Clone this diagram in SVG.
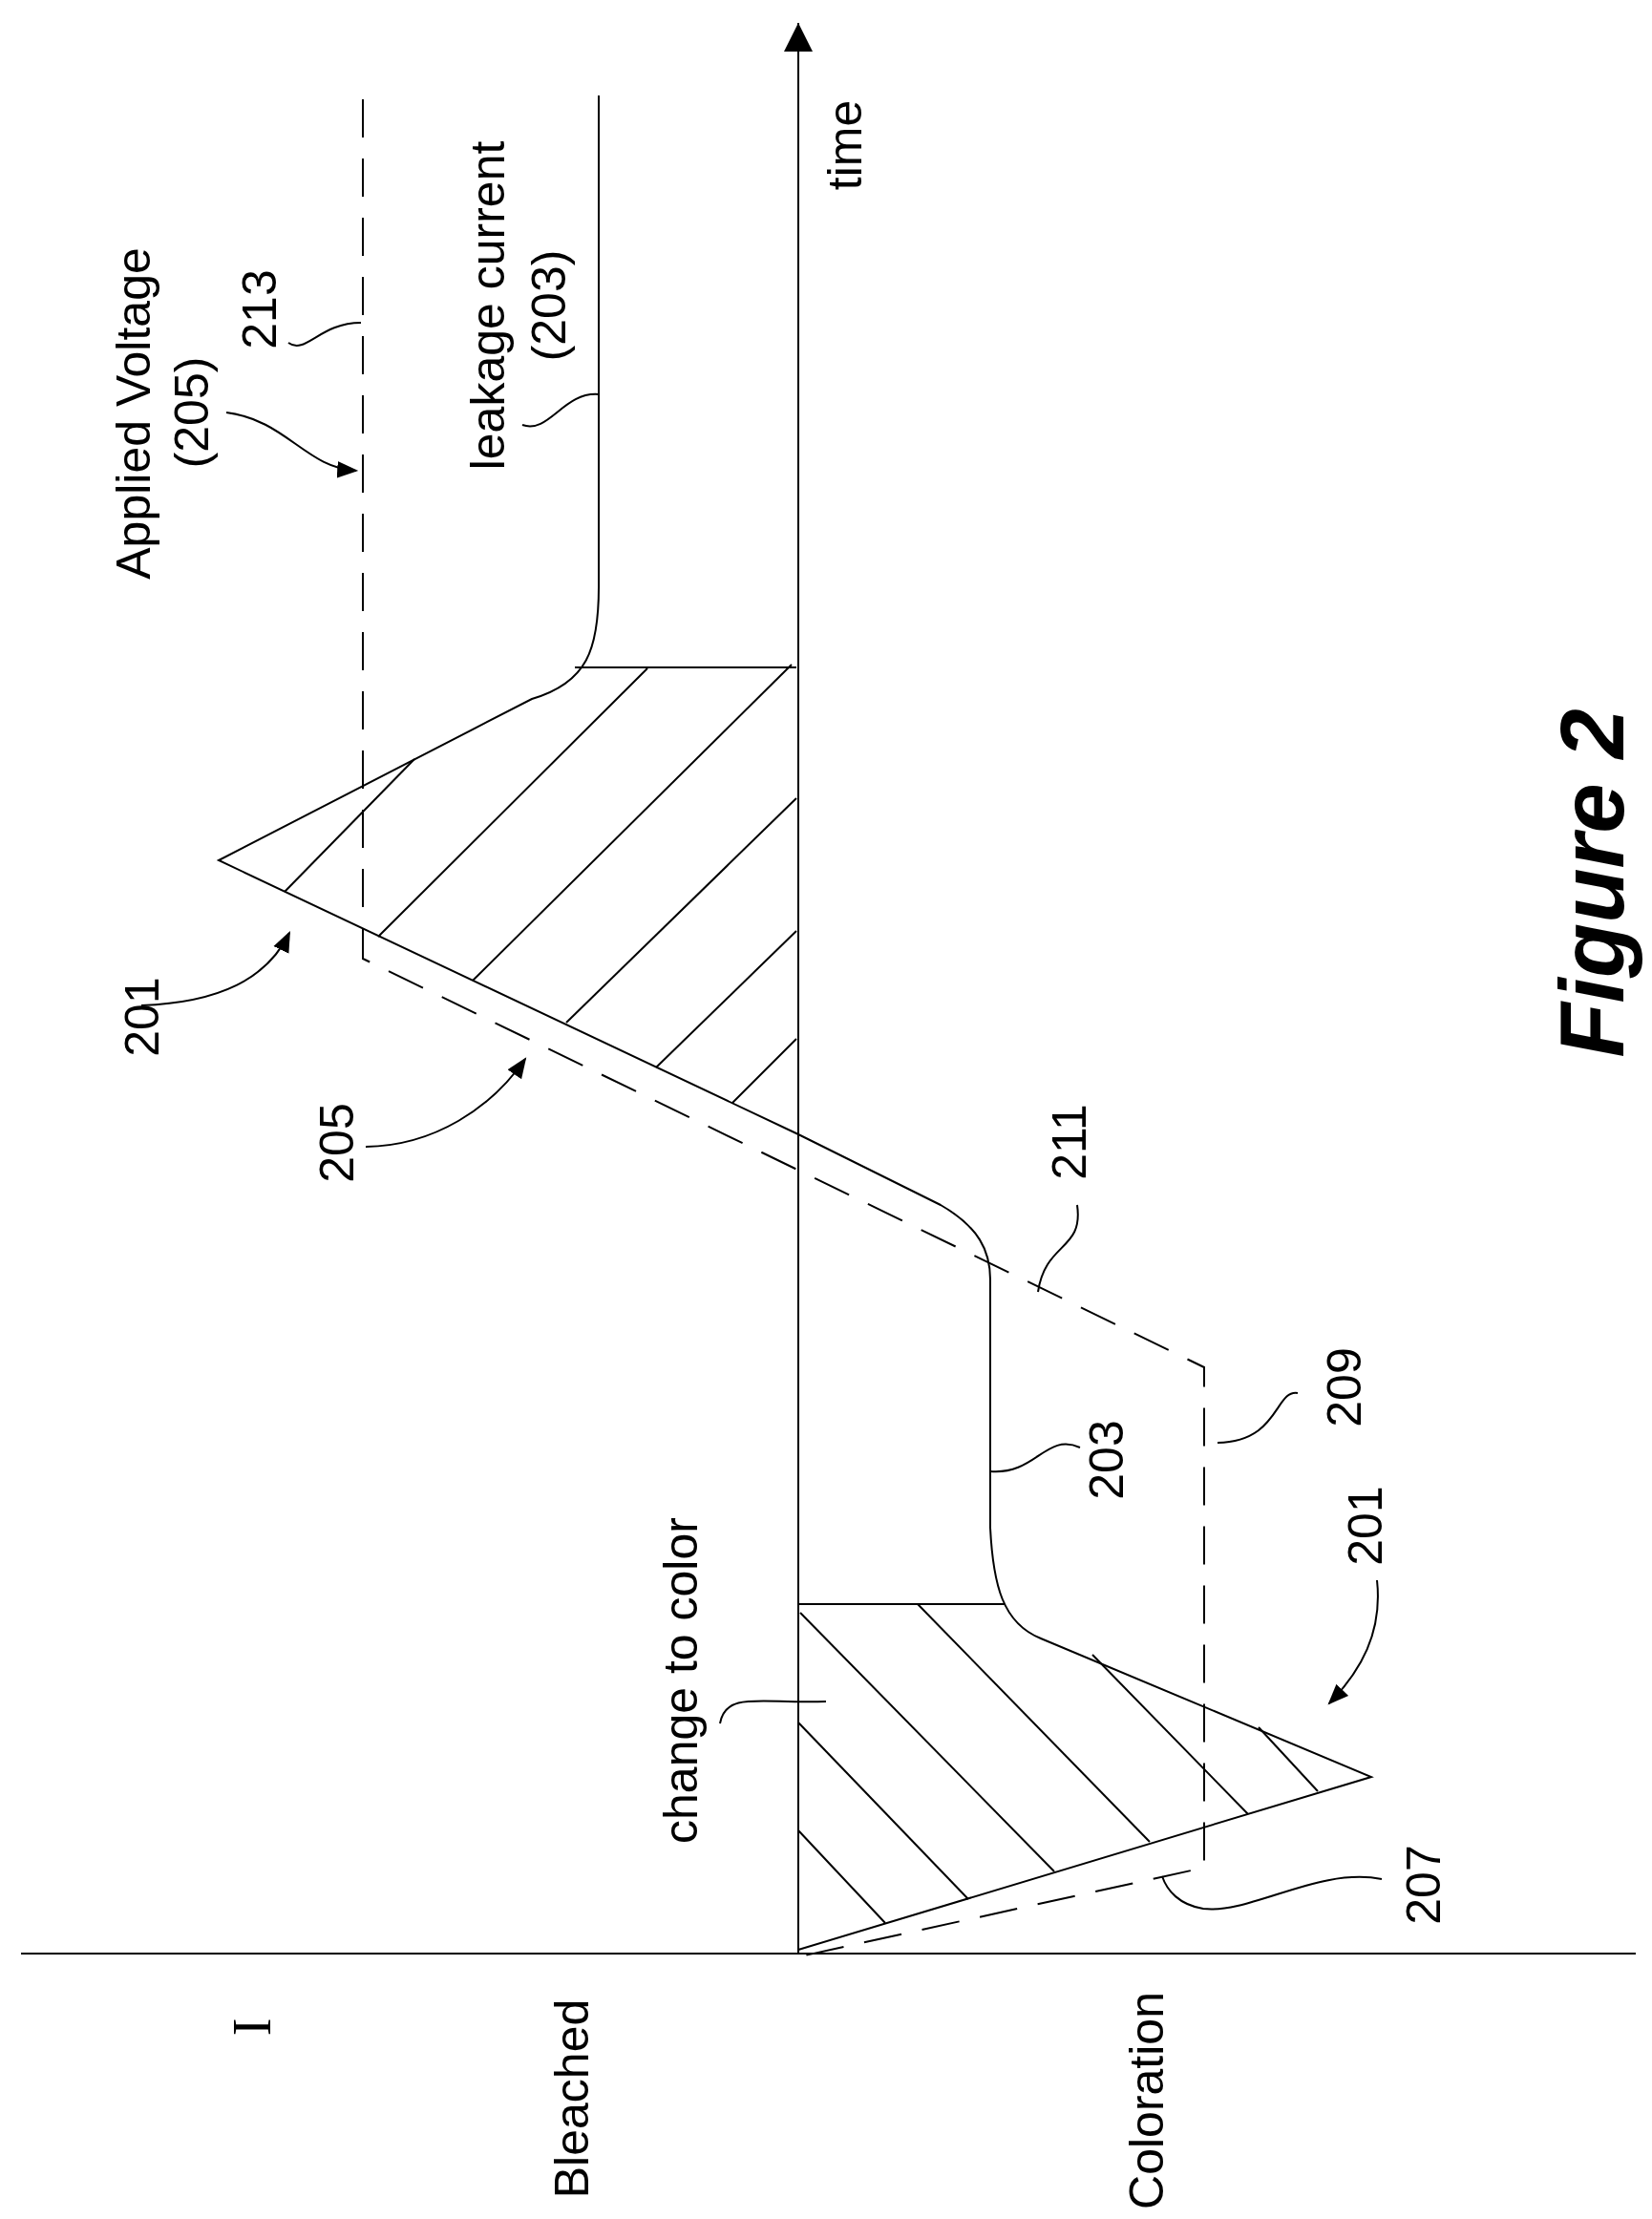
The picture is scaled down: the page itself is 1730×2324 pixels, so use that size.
<svg xmlns="http://www.w3.org/2000/svg" width="1730" height="2324" viewBox="0 0 1730 2324">
<style>
.l{fill:none;stroke:#000;stroke-width:2}
.d{fill:none;stroke:#000;stroke-width:2;stroke-dasharray:40 22}
.t{font-family:"Liberation Sans",Arial,sans-serif;font-size:50px;fill:#000;text-anchor:middle}
</style>
<defs>
<marker id="ah" viewBox="0 0 10 10" refX="9" refY="5" markerWidth="22" markerHeight="22" markerUnits="userSpaceOnUse" orient="auto"><path d="M0,1 L10,5 L0,9 z" fill="#000"/></marker>
<marker id="ax" viewBox="0 0 10 10" refX="10" refY="5" markerWidth="36" markerHeight="30" markerUnits="userSpaceOnUse" orient="auto"><path d="M0,0 L10,5 L0,10 z" fill="#000"/></marker>
</defs>
<g id="axes">
<line class="l" x1="836" y1="2046" x2="836" y2="24" marker-end="url(#ax)"/>
<line class="l" x1="22" y1="2046" x2="1713" y2="2046"/>
</g>
<g id="current-203">
<path class="l" d="M627,100 L627,615 C627,680 615,715 557,732 L229,901 L836,1188 L985,1262 C1025,1285 1037,1310 1037,1340 L1037,1600 C1040,1660 1050,1700 1090,1716 L1436,1861 L836,2042"/>
</g>
<g id="voltage-205">
<path class="d" d="M380,104 L380,1004 L1261,1432 L1261,1956 L829,2051"/>
</g>
<g id="hatch-upper">
<line class="l" x1="602" y1="699" x2="834" y2="699"/>
<line class="l" x1="434" y1="795" x2="298" y2="934"/>
<line class="l" x1="678" y1="700" x2="396" y2="981"/>
<line class="l" x1="829" y1="696" x2="495" y2="1027"/>
<line class="l" x1="834" y1="836" x2="593" y2="1071"/>
<line class="l" x1="834" y1="975" x2="687" y2="1118"/>
<line class="l" x1="834" y1="1088" x2="767" y2="1155"/>
</g>
<g id="hatch-lower">
<line class="l" x1="836" y1="1680" x2="1052" y2="1680"/>
<line class="l" x1="836" y1="1917" x2="927" y2="2014"/>
<line class="l" x1="836" y1="1804" x2="1014" y2="1989"/>
<line class="l" x1="838" y1="1689" x2="1104" y2="1960"/>
<line class="l" x1="961" y1="1680" x2="1204" y2="1929"/>
<line class="l" x1="1144" y1="1733" x2="1307" y2="1900"/>
<line class="l" x1="1318" y1="1809" x2="1380" y2="1876"/>
</g>
<g id="connectors">
<path class="l" d="M148,1053 C230,1050 280,1025 303,977" marker-end="url(#ah)"/>
<path class="l" d="M383,1201 C455,1200 515,1160 550,1109" marker-end="url(#ah)"/>
<path class="l" d="M237,432 C300,440 320,490 373,493" marker-end="url(#ah)"/>
<path class="l" d="M1442,1655 C1448,1710 1425,1750 1392,1784" marker-end="url(#ah)"/>
<path class="l" d="M302,359 C320,372 335,338 378,338"/>
<path class="l" d="M547,445 C575,455 590,410 627,413"/>
<path class="l" d="M1128,1262 C1135,1310 1095,1300 1087,1353"/>
<path class="l" d="M1359,1459 C1335,1455 1340,1510 1275,1511"/>
<path class="l" d="M1131,1516 C1095,1500 1085,1545 1037,1541"/>
<path class="l" d="M754,1805 C760,1770 800,1785 865,1782"/>
<path class="l" d="M1447,1968 C1380,1955 1310,2005 1260,1999 C1235,1995 1222,1980 1217,1965"/>
</g>
<g id="labels">
<text class="t" transform="translate(157,433) rotate(-90)">Applied Voltage</text>
<text class="t" transform="translate(218,432) rotate(-90)">(205)</text>
<text class="t" transform="translate(289,324) rotate(-90)">213</text>
<text class="t" transform="translate(528,320) rotate(-90)">leakage current</text>
<text class="t" transform="translate(592,320) rotate(-90)">(203)</text>
<text class="t" transform="translate(902,152) rotate(-90)">time</text>
<text class="t" transform="translate(166,1065) rotate(-90)">201</text>
<text class="t" transform="translate(370,1197) rotate(-90)">205</text>
<text class="t" transform="translate(1137,1196) rotate(-90)">211</text>
<text class="t" transform="translate(1425,1453) rotate(-90)">209</text>
<text class="t" transform="translate(1176,1529) rotate(-90)">203</text>
<text class="t" transform="translate(1447,1598) rotate(-90)">201</text>
<text class="t" transform="translate(1508,1974) rotate(-90)">207</text>
<text class="t" transform="translate(730,1760) rotate(-90)">change to color</text>
<text class="t" transform="translate(616,2198) rotate(-90)">Bleached</text>
<text class="t" transform="translate(1218,2200) rotate(-90)">Coloration</text>
<text transform="translate(283,2123) rotate(-90)" style="font-family:'Liberation Serif',serif;font-size:56px;text-anchor:middle">I</text>
<text transform="translate(1700,925) rotate(-90)" style="font-family:'Liberation Sans',Arial,sans-serif;font-size:94px;font-weight:bold;font-style:italic;text-anchor:middle">Figure 2</text>
</g>
</svg>
